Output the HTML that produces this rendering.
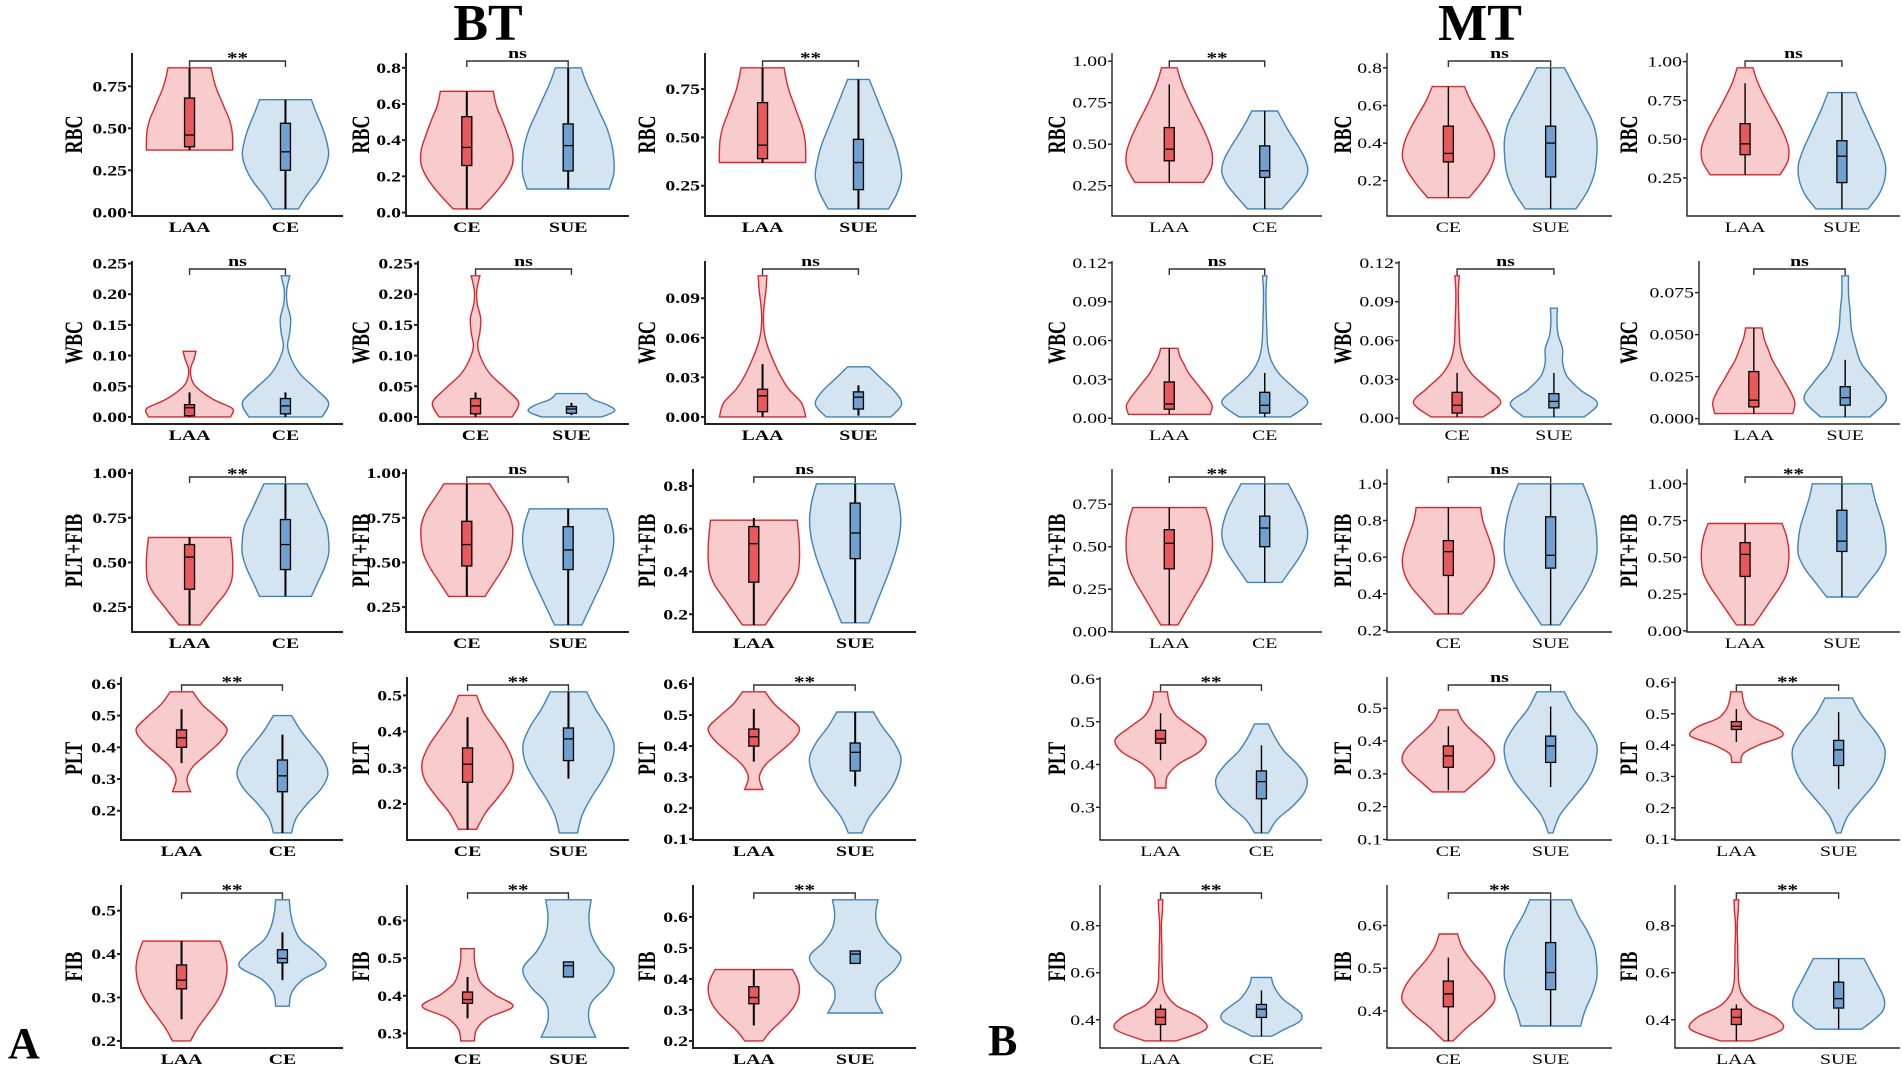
<!DOCTYPE html>
<html><head><meta charset="utf-8"><title>Violin plots BT / MT</title>
<style>
html,body{margin:0;padding:0;background:#fff;}
svg{display:block;}
</style></head>
<body>
<svg id="fig" width="1902" height="1068" viewBox="0 0 1902 1068" xmlns="http://www.w3.org/2000/svg"></svg>
<script>
// ---------- DATA ----------
const panelVars = ["RBC","RBC","RBC","WBC","WBC","WBC","PLT+FIB","PLT+FIB","PLT+FIB","PLT","PLT","PLT","FIB","FIB","FIB",
                   "RBC","RBC","RBC","WBC","WBC","WBC","PLT+FIB","PLT+FIB","PLT+FIB","PLT","PLT","PLT","FIB","FIB","FIB"];
const pairLAA_CE = ["LAA","CE"], pairCE_SUE = ["CE","SUE"], pairLAA_SUE = ["LAA","SUE"];
const panelCats = [pairLAA_CE,pairCE_SUE,pairLAA_SUE,pairLAA_CE,pairCE_SUE,pairLAA_SUE,pairLAA_CE,pairCE_SUE,pairLAA_SUE,
                   pairLAA_CE,pairCE_SUE,pairLAA_SUE,pairLAA_CE,pairCE_SUE,pairLAA_SUE,
                   pairLAA_CE,pairCE_SUE,pairLAA_SUE,pairLAA_CE,pairCE_SUE,pairLAA_SUE,pairLAA_CE,pairCE_SUE,pairLAA_SUE,
                   pairLAA_CE,pairCE_SUE,pairLAA_SUE,pairLAA_CE,pairCE_SUE,pairLAA_SUE];
const sigLabels = ["**","ns","**","ns","ns","ns","**","ns","ns","**","**","**","**","**","**",
                   "**","ns","ns","ns","ns","ns","**","ns","**","**","ns","**","**","**","**"];
const tickLabels = [
 ["0.00","0.25","0.50","0.75"],["0.0","0.2","0.4","0.6","0.8"],["0.25","0.50","0.75"],
 ["0.00","0.05","0.10","0.15","0.20","0.25"],["0.00","0.05","0.10","0.15","0.20","0.25"],["0.00","0.03","0.06","0.09"],
 ["0.25","0.50","0.75","1.00"],["0.25","0.50","0.75","1.00"],["0.2","0.4","0.6","0.8"],
 ["0.2","0.3","0.4","0.5","0.6"],["0.2","0.3","0.4","0.5"],["0.1","0.2","0.3","0.4","0.5","0.6"],
 ["0.2","0.3","0.4","0.5"],["0.3","0.4","0.5","0.6"],["0.2","0.3","0.4","0.5","0.6"],
 ["0.25","0.50","0.75","1.00"],["0.2","0.4","0.6","0.8"],["0.25","0.50","0.75","1.00"],
 ["0.00","0.03","0.06","0.09","0.12"],["0.00","0.03","0.06","0.09","0.12"],["0.000","0.025","0.050","0.075"],
 ["0.00","0.25","0.50","0.75"],["0.2","0.4","0.6","0.8","1.0"],["0.00","0.25","0.50","0.75","1.00"],
 ["0.3","0.4","0.5","0.6"],["0.1","0.2","0.3","0.4","0.5"],["0.1","0.2","0.3","0.4","0.5","0.6"],
 ["0.4","0.6","0.8"],["0.4","0.5","0.6"],["0.4","0.6","0.8"]];
// violin ranges [min,max] for first & second group
const violinRanges = [
 [[0.37,0.86],[0.02,0.67]],[[0.02,0.67],[0.13,0.80]],[[0.37,0.86],[0.13,0.80]],
 [[0,0.107],[0,0.23]],[[0,0.23],[0,0.038]],[[0,0.107],[0,0.038]],
 [[0.15,0.64],[0.31,0.94]],[[0.31,0.94],[0.15,0.80]],[[0.15,0.64],[0.16,0.81]],
 [[0.26,0.575],[0.13,0.50]],[[0.13,0.50],[0.12,0.51]],[[0.26,0.575],[0.12,0.51]],
 [[0.2,0.43],[0.28,0.525]],[[0.28,0.525],[0.29,0.655]],[[0.2,0.43],[0.29,0.655]],
 [[0.27,0.96],[0.11,0.70]],[[0.11,0.70],[0.05,0.80]],[[0.27,0.96],[0.05,0.80]],
 [[0.003,0.054],[0.001,0.11]],[[0.001,0.11],[0.001,0.085]],[[0.003,0.054],[0.001,0.085]],
 [[0.04,0.73],[0.29,0.87]],[[0.29,0.87],[0.23,1.0]],[[0.04,0.73],[0.23,1.0]],
 [[0.345,0.57],[0.24,0.495]],[[0.245,0.495],[0.12,0.55]],[[0.345,0.57],[0.12,0.55]],
 [[0.31,0.91],[0.33,0.58]],[[0.33,0.58],[0.365,0.66]],[[0.31,0.91],[0.36,0.66]]];
// relative half-widths, bottom to top
const violinWidths = [
 [[1.0,1.0,0.98,0.92,0.82,0.72,0.62,0.55,0.5],[0.3,0.5,0.75,0.92,1.0,0.95,0.85,0.72,0.6]],
 [[0.3,0.6,0.85,1.0,1.0,0.9,0.78,0.65,0.58],[0.9,1.0,1.0,0.95,0.85,0.7,0.55,0.4,0.28]],
 [[1.0,1.0,0.98,0.92,0.82,0.72,0.62,0.55,0.5],[0.7,0.9,1.0,0.95,0.85,0.7,0.55,0.4,0.25]],
 [[0.95,1.0,0.6,0.3,0.1,0.03,0.03,0.1,0.15],[0.85,1.0,0.7,0.35,0.15,0.05,0.1,0.12,0.04,0.03,0.1]],
 [[0.85,1.0,0.7,0.35,0.15,0.05,0.1,0.12,0.04,0.03,0.1],[0.7,1.0,0.85,0.5,0.35]],
 [[1.0,0.9,0.6,0.4,0.25,0.12,0.04,0.02,0.04,0.08,0.1],[0.75,1.0,0.85,0.55,0.25]],
 [[0.25,0.45,0.65,0.85,0.97,1.0,1.0,0.98,0.95],[0.6,0.75,0.9,1.0,1.0,0.95,0.8,0.65,0.5]],
 [[0.4,0.6,0.8,0.95,1.0,1.0,0.9,0.7,0.5],[0.3,0.45,0.6,0.75,0.88,0.97,1.0,0.95,0.85]],
 [[0.25,0.45,0.65,0.85,0.97,1.0,1.0,0.98,0.95],[0.3,0.45,0.6,0.75,0.88,0.97,1.0,0.95,0.85]],
 [[0.2,0.12,0.25,0.55,0.85,1.0,0.75,0.45,0.25],[0.2,0.3,0.55,0.85,1.0,0.9,0.65,0.4,0.2]],
 [[0.2,0.4,0.7,0.95,1.0,0.85,0.6,0.35,0.2],[0.2,0.3,0.5,0.75,0.95,1.0,0.85,0.6,0.4]],
 [[0.2,0.12,0.25,0.55,0.85,1.0,0.75,0.45,0.25],[0.15,0.3,0.55,0.8,0.95,1.0,0.85,0.6,0.4]],
 [[0.2,0.35,0.55,0.75,0.9,0.98,1.0,0.95,0.85],[0.15,0.2,0.45,0.95,0.75,0.4,0.25,0.18,0.15]],
 [[0.15,0.2,0.45,1.0,0.6,0.3,0.2,0.15,0.15],[0.6,0.45,0.5,0.85,1.0,0.7,0.5,0.45,0.5]],
 [[0.2,0.35,0.55,0.75,0.9,0.98,1.0,0.95,0.85],[0.6,0.45,0.5,0.85,1.0,0.7,0.5,0.45,0.5]],
 [[0.8,0.98,1.0,0.9,0.75,0.58,0.42,0.28,0.18],[0.4,0.65,0.88,1.0,0.95,0.8,0.62,0.45,0.3]],
 [[0.45,0.7,0.9,1.0,0.95,0.82,0.65,0.48,0.35],[0.55,0.8,0.95,1.0,1.0,0.9,0.7,0.5,0.3]],
 [[0.8,0.98,1.0,0.9,0.75,0.58,0.42,0.28,0.18],[0.6,0.85,0.98,1.0,0.9,0.75,0.6,0.45,0.32]],
 [[0.95,1.0,0.9,0.75,0.6,0.45,0.35,0.25,0.2],[0.6,1.0,0.7,0.35,0.15,0.07,0.05,0.04,0.03,0.03,0.05]],
 [[0.6,1.0,0.7,0.35,0.15,0.07,0.05,0.04,0.03,0.03,0.05],[0.7,1.0,0.6,0.3,0.2,0.2,0.1,0.07,0.08]],
 [[0.95,1.0,0.9,0.75,0.6,0.45,0.35,0.25,0.2],[0.6,1.0,0.75,0.4,0.25,0.15,0.12,0.08,0.08]],
 [[0.2,0.4,0.6,0.8,0.95,1.0,1.0,0.95,0.85],[0.4,0.6,0.8,0.95,1.0,0.95,0.85,0.7,0.55]],
 [[0.3,0.55,0.8,0.95,1.0,0.95,0.85,0.75,0.7],[0.2,0.45,0.7,0.9,1.0,1.0,0.95,0.85,0.7]],
 [[0.2,0.4,0.6,0.8,0.95,1.0,1.0,0.95,0.85],[0.35,0.6,0.85,1.0,1.0,0.95,0.85,0.75,0.68]],
 [[0.12,0.15,0.4,0.85,1.0,0.7,0.35,0.2,0.15],[0.15,0.35,0.7,0.95,1.0,0.8,0.5,0.3,0.15]],
 [[0.35,0.6,0.85,1.0,0.95,0.75,0.5,0.3,0.2],[0.05,0.2,0.5,0.8,0.97,1.0,0.8,0.5,0.3]],
 [[0.1,0.15,0.5,1.0,0.85,0.4,0.22,0.15,0.12],[0.05,0.2,0.5,0.8,0.97,1.0,0.8,0.5,0.3]],
 [[0.35,1.0,0.85,0.35,0.12,0.05,0.04,0.03,0.03,0.02,0.02,0.04,0.05],[0.22,0.53,0.84,0.88,0.7,0.48,0.35,0.26,0.22]],
 [[0.1,0.4,0.75,1.0,0.95,0.75,0.5,0.3,0.2],[0.65,0.75,0.9,1.0,1.0,0.95,0.8,0.6,0.45]],
 [[0.35,1.0,0.85,0.35,0.12,0.05,0.04,0.03,0.03,0.02,0.02,0.04,0.05],[0.5,0.75,0.95,1.0,0.95,0.85,0.75,0.65,0.55]]];
// box stats [whiskerLow, q1, median, q3, whiskerHigh]
const boxStats = [
 [[0.37,0.39,0.46,0.68,0.86],[0.02,0.25,0.36,0.53,0.67]],
 [[0.02,0.26,0.36,0.53,0.67],[0.13,0.23,0.37,0.49,0.80]],
 [[0.37,0.39,0.46,0.68,0.86],[0.13,0.23,0.37,0.49,0.80]],
 [[0,0.002,0.015,0.02,0.04],[0,0.005,0.018,0.03,0.04]],
 [[0,0.005,0.018,0.03,0.04],[0.003,0.006,0.013,0.017,0.023]],
 [[0,0.004,0.016,0.021,0.04],[0.001,0.006,0.015,0.019,0.024]],
 [[0.15,0.35,0.53,0.60,0.64],[0.31,0.46,0.60,0.74,0.94]],
 [[0.31,0.48,0.60,0.73,0.94],[0.15,0.46,0.57,0.70,0.80]],
 [[0.15,0.35,0.53,0.61,0.65],[0.16,0.46,0.58,0.72,0.81]],
 [[0.35,0.40,0.43,0.455,0.52],[0.13,0.26,0.31,0.36,0.44]],
 [[0.13,0.26,0.31,0.355,0.44],[0.27,0.32,0.38,0.41,0.51]],
 [[0.35,0.40,0.43,0.455,0.52],[0.27,0.32,0.38,0.41,0.51]],
 [[0.25,0.32,0.34,0.375,0.43],[0.34,0.38,0.39,0.41,0.45]],
 [[0.34,0.38,0.39,0.41,0.45],[0.45,0.45,0.48,0.49,0.49]],
 [[0.25,0.32,0.34,0.375,0.43],[0.45,0.45,0.48,0.49,0.49]],
 [[0.27,0.40,0.47,0.60,0.86],[0.11,0.30,0.34,0.49,0.70]],
 [[0.11,0.30,0.345,0.49,0.70],[0.05,0.22,0.40,0.49,0.80]],
 [[0.27,0.40,0.47,0.60,0.86],[0.05,0.22,0.39,0.49,0.80]],
 [[0.003,0.007,0.011,0.028,0.054],[0.001,0.004,0.01,0.02,0.035]],
 [[0.001,0.004,0.01,0.02,0.035],[0.001,0.008,0.013,0.019,0.035]],
 [[0.003,0.007,0.011,0.028,0.054],[0.001,0.008,0.0125,0.019,0.035]],
 [[0.04,0.37,0.52,0.60,0.73],[0.29,0.50,0.61,0.68,0.87]],
 [[0.29,0.50,0.63,0.69,0.87],[0.23,0.54,0.61,0.82,1.0]],
 [[0.04,0.37,0.52,0.60,0.73],[0.23,0.54,0.61,0.82,1.0]],
 [[0.41,0.45,0.46,0.48,0.52],[0.24,0.32,0.36,0.385,0.445]],
 [[0.25,0.32,0.355,0.385,0.445],[0.26,0.335,0.385,0.415,0.505]],
 [[0.41,0.45,0.46,0.475,0.515],[0.26,0.335,0.385,0.415,0.505]],
 [[0.31,0.38,0.41,0.445,0.465],[0.33,0.41,0.445,0.465,0.525]],
 [[0.33,0.41,0.44,0.47,0.525],[0.365,0.45,0.49,0.56,0.66]],
 [[0.31,0.38,0.41,0.445,0.465],[0.36,0.45,0.49,0.56,0.66]]];

// ---------- LAYOUT ----------
const rowBottoms = [216,424,632,840,1048];
const axisLefts = [132,406,705, 132,418,705, 132,406,693, 121,407,693, 121,407,693,
                   1112,1387,1687, 1112,1399,1699, 1112,1387,1687, 1100,1387,1675, 1100,1387,1675];
const colRights = [343,629,916,1322,1612,1900];
const titleXs = [75,362,648,1058,1344,1630];
const PANEL_H = 163, SX = 1.32;
const COLORS = [{line:"#d7282f",fill:"#f8cbcc",box:"#e8595b"},{line:"#3f83b8",fill:"#d5e4f1",box:"#6fa0cf"}];

const NS = "http://www.w3.org/2000/svg";
const svg = document.getElementById("fig");
function mk(tag, attrs, parent){
  const e = document.createElementNS(NS, tag);
  for (const k in attrs) e.setAttribute(k, attrs[k]);
  (parent||svg).appendChild(e);
  return e;
}
function txt(str, x, y, anchor, size, bold, parent, sx){
  const t = mk("text", {transform:`translate(${x},${y}) scale(${sx||SX},1)`, "text-anchor":anchor,
    "font-family":"'Liberation Serif', serif", "font-size":size, "font-weight":bold?"bold":"normal", fill:"#000"}, parent);
  t.textContent = str;
  return t;
}
function smoothPath(pts){
  let d = "";
  for (let i=0;i<pts.length-1;i++){
    const p0=pts[Math.max(0,i-1)], p1=pts[i], p2=pts[i+1], p3=pts[Math.min(pts.length-1,i+2)];
    const c1x=p1[0]+(p2[0]-p0[0])/6, c1y=p1[1]+(p2[1]-p0[1])/6;
    const c2x=p2[0]-(p3[0]-p1[0])/6, c2y=p2[1]-(p3[1]-p1[1])/6;
    d += ` C${c1x.toFixed(1)},${c1y.toFixed(1)} ${c2x.toFixed(1)},${c2y.toFixed(1)} ${p2[0].toFixed(1)},${p2[1].toFixed(1)}`;
  }
  return d;
}

// Titles
const tBT = txt("BT", 488, 40, "middle", 52, true, svg, 1);


const tMT = txt("MT", 1480, 40, "middle", 52, true, svg, 1);


const tA = txt("A", 8, 1058, "start", 44, true, svg, 1);


const tB = txt("B", 988, 1055, "start", 44, true, svg, 1);



for (let p=0;p<30;p++){
  const isBT = p<15;
  const row = Math.floor((p%15)/3), col = p%3 + (isBT?0:3);
  const bottom = rowBottoms[row], top = bottom-PANEL_H;
  const left = axisLefts[p], right = colRights[col];
  const lw = isBT?2:1.4;
  const g = mk("g", {});
  
  

  // y scale
  const vr = violinRanges[p];
  const dmin = Math.min(vr[0][0], vr[1][0]), dmax = Math.max(vr[0][1], vr[1][1]);
  const R = dmax-dmin;
  const lo = dmin-0.05*R, hi = dmax+0.105*R;
  const yS = v => bottom - (v-lo)/(hi-lo)*PANEL_H;
  const W = right-left, unit = W/2.2;
  const xS = i => left + unit*(0.6+i);
  const maxHW = 0.45*unit;

  // violins
  for (let k=0;k<2;k++){
    const c = COLORS[k], cx = xS(k);
    const ws = violinWidths[p][k], [vmin,vmax] = vr[k];
    const n = ws.length;
    const rightPts = ws.map((w,i)=>[cx + w*maxHW, yS(vmin + (vmax-vmin)*i/(n-1))]);
    const leftPts = ws.map((w,i)=>[cx - w*maxHW, yS(vmin + (vmax-vmin)*i/(n-1))]).reverse();
    let d = `M${rightPts[0][0].toFixed(1)},${rightPts[0][1].toFixed(1)}` + smoothPath(rightPts)
          + ` L${leftPts[0][0].toFixed(1)},${leftPts[0][1].toFixed(1)}` + smoothPath(leftPts) + " Z";
    const v = mk("path", {d, fill:c.fill, stroke:c.line, "stroke-width":1.4}, g);
    
    

    const b = boxStats[p][k];
    const wh = mk("line", {x1:cx, x2:cx, y1:yS(b[0]), y2:yS(b[4]), stroke:"#000", "stroke-width":isBT?2:1.4}, g);
    
    
    const bx = mk("rect", {x:cx-5, y:yS(b[3]), width:10, height:Math.max(1,yS(b[1])-yS(b[3])), fill:c.box, stroke:"#000", "stroke-width":1.3}, g);
    
    
    const md = mk("line", {x1:cx-5, x2:cx+5, y1:yS(b[2]), y2:yS(b[2]), stroke:"#000", "stroke-width":1.3}, g);
    
    

    const cl = txt(panelCats[p][k], cx, bottom+16, "middle", 15, isBT, g);
    
    
  }

  // axes
  const ya = mk("line", {x1:left, x2:left, y1:top, y2:bottom, stroke:"#222", "stroke-width":lw}, g);
  
  
  const xa = mk("line", {x1:left-lw/2, x2:right, y1:bottom, y2:bottom, stroke:"#222", "stroke-width":lw}, g);
  
  

  // ticks
  tickLabels[p].forEach(lab=>{
    const v = parseFloat(lab), y = yS(v);
    const tk = mk("line", {x1:left-4, x2:left, y1:y, y2:y, stroke:"#222", "stroke-width":lw}, g);
    
    
    const tl = txt(lab, left-5, y+5, "end", 15, isBT, g);
    
    
  });

  // y-axis title
  const ty = (top+bottom)/2;
  const yt = mk("text", {transform:`translate(${titleXs[col]+7},${ty}) scale(1.4,1) rotate(-90)`, "text-anchor":"middle",
    "font-family":"'Liberation Serif', serif", "font-size":18, "font-weight":"bold", fill:"#000"}, g);
  yt.textContent = panelVars[p];
  
  

  // significance bracket
  const by = top+8, x1 = xS(0), x2 = xS(1);
  const br = mk("path", {d:`M${x1},${by+6} L${x1},${by} L${x2},${by} L${x2},${by+6}`, fill:"none", stroke:"#333", "stroke-width":1.4}, g);
  
  
  const sl = txt(sigLabels[p], (x1+x2)/2, by-(sigLabels[p]==="**"?-2:3), "middle", sigLabels[p]==="**"?16:15, true, g);
  
  
}
</script>
</body></html>
